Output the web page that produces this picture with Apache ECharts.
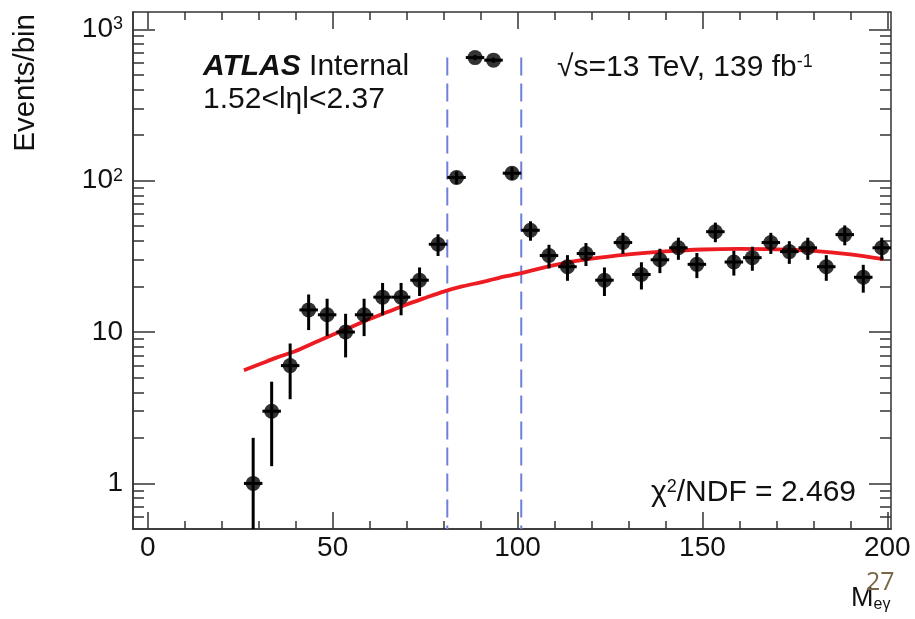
<!DOCTYPE html>
<html>
<head>
<meta charset="utf-8">
<style>
html,body{margin:0;padding:0;background:#fff;}
#chart{width:915px;height:619px;}
</style>
<script src="https://cdn.jsdelivr.net/npm/echarts@6.0.0/dist/echarts.min.js"></script>
</head>
<body>
<div id="chart"></div>
<script>
// ---- data ----
const binCenters = [28.5, 33.5, 38.5, 43.5, 48.5, 53.5, 58.5, 63.5, 68.5, 73.5, 78.5,
  83.5, 88.5, 93.5, 98.5,
  103.5, 108.5, 113.5, 118.5, 123.5, 128.5, 133.5, 138.5, 143.5, 148.5,
  153.5, 158.5, 163.5, 168.5, 173.5, 178.5, 183.5, 188.5, 193.5, 198.5];
const counts = [1, 3, 6, 14, 13, 10, 13, 17, 17, 22, 38,
  105, 650, 625, 112,
  47, 32, 27, 33, 22, 39, 24, 30, 36, 28,
  46, 29, 31, 39, 34, 36, 27, 44, 23, 36];
const countErrors = [1.0, 1.7, 2.4, 3.7, 3.6, 3.2, 3.6, 4.1, 4.1, 4.7, 6.2,
  10.2, 25.5, 25.0, 10.6,
  6.9, 5.7, 5.2, 5.7, 4.7, 6.2, 4.9, 5.5, 6.0, 5.3,
  6.8, 5.4, 5.6, 6.2, 5.8, 6.0, 5.2, 6.6, 4.8, 6.0];
const binHalfWidth = 2.5;

const fitX = [26, 30, 35, 40, 45, 50, 55, 60, 65, 70, 75, 80, 85, 90, 95, 100,
  110, 120, 130, 140, 150, 160, 170, 180, 190, 199];
const fitY = [5.6, 6.1, 6.8, 7.5, 8.5, 9.6, 10.8, 12.2, 13.6, 15.2, 16.8, 18.5, 20.0, 21.3, 22.8, 24.2,
  27.7, 30.5, 32.6, 34.1, 35.1, 35.4, 35.2, 34.4, 32.6, 30.3];

const cutValues = [81, 101];
const cutTop = 650;

const xMajorTicks = [0, 50, 100, 150, 200];
const xMinorTicks = [10, 20, 30, 40, 60, 70, 80, 90, 110, 120, 130, 140, 160, 170, 180, 190];
const yMajorTicks = [1, 10, 100, 1000];
const yMinorTicks = [0.6, 0.7, 0.8, 0.9, 2, 3, 4, 5, 6, 7, 8, 9, 20, 30, 40, 50, 60, 70, 80, 90,
  200, 300, 400, 500, 600, 700, 800, 900];

const xRange = [-4, 201];
const yRange = [0.5, 1300];

// ---- chart ----
const FONT = '"Liberation Sans", Arial, Helvetica, sans-serif';
const AXC = '#333';
const chart = echarts.init(document.getElementById('chart'), null, {renderer: 'canvas'});

function xAxisDef(pos, ticks, len, labels) {
  return {
    type: 'value', position: pos, min: xRange[0], max: xRange[1],
    axisLine: {show: labels, onZero: false, lineStyle: {color: AXC, width: 1.5}},
    axisTick: {show: true, inside: true, length: len, customValues: ticks, lineStyle: {color: AXC, width: 1.5}},
    axisLabel: labels ? {show: true, customValues: ticks, fontSize: 28, fontFamily: FONT, color: '#111', margin: 5} : {show: false},
    splitLine: {show: false}
  };
}
function yAxisDef(pos, ticks, len, labels) {
  return {
    type: 'log', logBase: 10, position: pos, min: yRange[0], max: yRange[1],
    axisLine: {show: labels, onZero: false, lineStyle: {color: AXC, width: 1.5}},
    axisTick: {show: true, inside: true, length: len, customValues: ticks, lineStyle: {color: AXC, width: 1.5}},
    axisLabel: labels ? {
      show: true, customValues: ticks, fontSize: 28, fontFamily: FONT, color: '#111', margin: 10,
      formatter: function (v) {
        const r = Math.round(v);
        if (r === 1000) return '{b|10}{s|3}';
        if (r === 100) return '{b|10}{s|2}';
        return '{b|' + r + '}';
      },
      rich: {
        b: {fontSize: 28, fontFamily: FONT, color: '#111'},
        s: {fontSize: 18, fontFamily: FONT, color: '#111', verticalAlign: 'top'}
      }
    } : {show: false},
    splitLine: {show: false}
  };
}

const errData = binCenters.map((x, i) => [x, counts[i], Math.max(counts[i] - countErrors[i], yRange[0]), counts[i] + countErrors[i]]);
const ptData = binCenters.map((x, i) => [x, counts[i]]);
const fitData = fitX.map((x, i) => [x, fitY[i]]);

const series = [];
cutValues.forEach(v => {
  series.push({
    type: 'line', xAxisIndex: 0, yAxisIndex: 0, data: [[v, cutTop], [v, yRange[0]]],
    symbol: 'none', silent: true, z: 2,
    lineStyle: {color: '#6f80d8', width: 2, type: [18, 8]}
  });
});
series.push({
  type: 'line', xAxisIndex: 0, yAxisIndex: 0, data: fitData, symbol: 'none', smooth: 0.3, z: 3,
  lineStyle: {color: '#ec1c22', width: 3.8}
});
series.push({
  type: 'custom', xAxisIndex: 0, yAxisIndex: 0, data: errData, z: 4,
  renderItem: function (params, api) {
    const x = api.value(0), y = api.value(1), lo = api.value(2), hi = api.value(3);
    const p0 = api.coord([x, lo]);
    const p1 = api.coord([x, hi]);
    const l = api.coord([x - binHalfWidth, y]);
    const r = api.coord([x + binHalfWidth, y]);
    const st = {stroke: '#000', lineWidth: 3};
    return {type: 'group', children: [
      {type: 'line', shape: {x1: p0[0], y1: p0[1], x2: p1[0], y2: p1[1]}, style: st},
      {type: 'line', shape: {x1: l[0], y1: l[1], x2: r[0], y2: r[1]}, style: st}
    ]};
  }
});
series.push({
  type: 'scatter', xAxisIndex: 0, yAxisIndex: 0, data: ptData, symbol: 'circle', symbolSize: 15, z: 5,
  itemStyle: {color: '#000'}
});

const option = {
  animation: false,
  backgroundColor: '#fff',
  grid: {left: 133, right: 24, top: 12, bottom: 90, show: true, borderColor: AXC, borderWidth: 1.5, backgroundColor: 'transparent'},
  xAxis: [
    xAxisDef('bottom', xMajorTicks, 17, true),
    xAxisDef('bottom', xMinorTicks, 8, false),
    xAxisDef('top', xMajorTicks, 17, false),
    xAxisDef('top', xMinorTicks, 8, false)
  ],
  yAxis: [
    yAxisDef('left', yMajorTicks, 22, true),
    yAxisDef('left', yMinorTicks, 11, false),
    yAxisDef('right', yMajorTicks, 22, false),
    yAxisDef('right', yMinorTicks, 11, false)
  ],
  series: series,
  graphic: [
    {type: 'text', x: 41, y: 14, rotation: Math.PI / 2,
      style: {text: 'Events/bin', font: '29.5px ' + FONT, fill: '#111', align: 'right', verticalAlign: 'bottom'}},
    {type: 'text', x: 203, y: 67,
      style: {text: '{a|ATLAS} Internal', font: '30px ' + FONT, fill: '#111', verticalAlign: 'middle',
        rich: {a: {fontWeight: 'bold', fontStyle: 'italic', fontSize: 30, fontFamily: FONT, fill: '#111'}}}},
    {type: 'text', x: 203, y: 100,
      style: {text: '1.52<l\u03B7l<2.37', font: '30px ' + FONT, fill: '#111', verticalAlign: 'middle'}},
    {type: 'text', x: 557, y: 68,
      style: {text: '\u221As=13 TeV, 139 fb{s|-1}', font: '30px ' + FONT, fill: '#111', verticalAlign: 'middle',
        rich: {s: {fontSize: 18, fontFamily: FONT, fill: '#111', verticalAlign: 'top'}}}},
    {type: 'text', x: 651, y: 493,
      style: {text: '\u03C7{s|2}/NDF = 2.469', font: '30px ' + FONT, fill: '#111', verticalAlign: 'middle',
        rich: {s: {fontSize: 18, fontFamily: FONT, fill: '#111', verticalAlign: 'top'}}}},
    {type: 'text', x: 851, y: 599,
      style: {text: 'M{s|e\u03B3}', font: '27px ' + FONT, fill: '#111', verticalAlign: 'middle',
        rich: {s: {fontSize: 16, fontFamily: FONT, fill: '#111', verticalAlign: 'bottom'}}}},
    {type: 'text', x: 866, y: 583,
      style: {text: '27', font: '25px "Open Sans", sans-serif', fill: '#7a6748', verticalAlign: 'middle'}}
  ]
};
chart.setOption(option);
</script>
</body>
</html>
